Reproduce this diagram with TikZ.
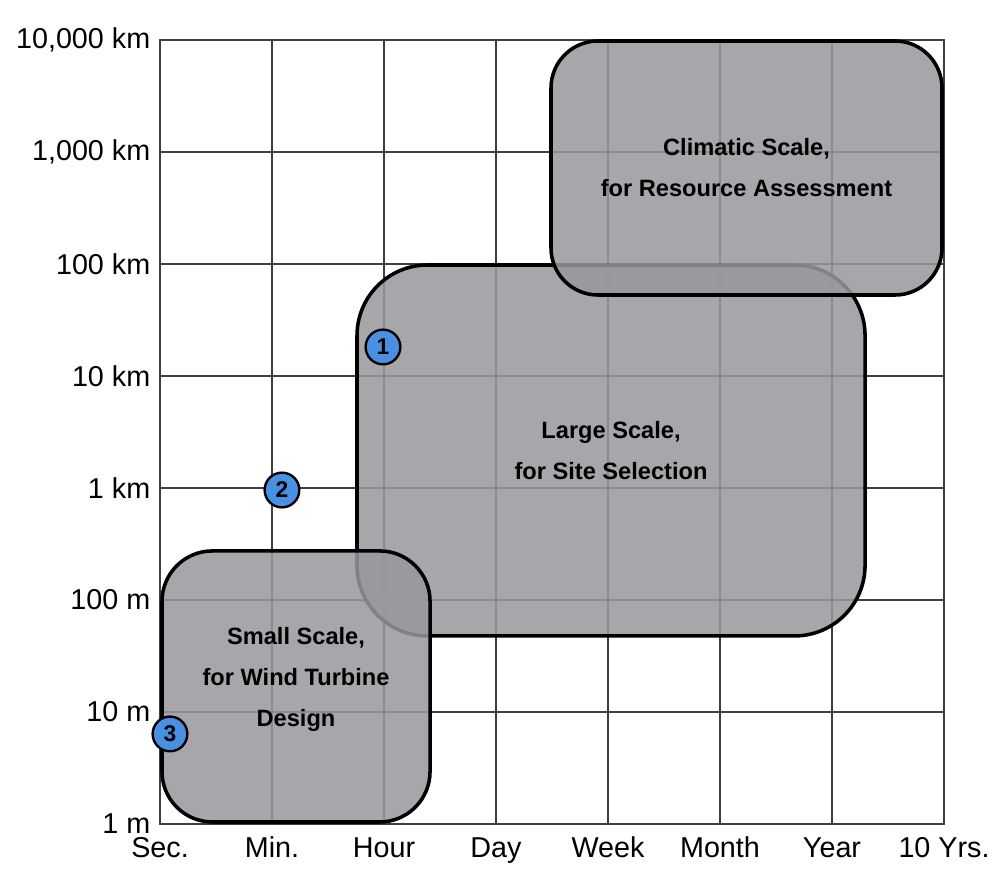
\documentclass[tikz,border=0pt]{standalone}
\usepackage{fontspec}
\setmainfont{Liberation Sans}
\usepackage{tikz}
\usetikzlibrary{positioning}

\definecolor{gridgray}{RGB}{64,64,64}
\definecolor{scalefill}{RGB}{152,151,157}
\definecolor{markblue}{RGB}{74,144,226}

\tikzset{
	scalebox/.style={rectangle,draw=black,line width=.9pt,fill=scalefill,fill opacity=.86,text opacity=1,align=center,
		font=\fontsize{6pt}{10.4pt}\selectfont\bfseries},
	axislabel/.style={inner sep=0pt,font=\fontsize{7.3pt}{8pt}\selectfont},
	marker/.style={circle,draw=black,line width=.6pt,fill=markblue,minimum size=.31cm,inner sep=0pt,
		font=\fontsize{5.8pt}{6pt}\selectfont\bfseries}
}

\begin{document}
\begin{tikzpicture}
		\useasboundingbox (-1.4286,-.5625) rectangle (7.5536,7.357);

		% grid
		\foreach \i in {1,...,6} {
			\draw[gridgray,line width=.5pt] (\i,0) -- (\i,7);
			\draw[gridgray,line width=.5pt] (0,\i) -- (7,\i);
		}
		\draw[gridgray,line width=.5pt] (0,0) rectangle (7,7);

		% length axis
		\foreach \lbl [count=\j from 0] in {1 m,10 m,100 m,1 km,10 km,100 km,{1,000 km},{10,000 km}}
			\node[axislabel,anchor=east] (len\j) at (-.08,\j) {\lbl};

		% time axis
		\foreach \lbl [count=\j from 0] in {Sec.,Min.,Hour,Day,Week,Month,Year,10 Yrs.}
			\node[axislabel,anchor=base] (time\j) at (\j,-.295) {\lbl};

		% scale regions
		\node[scalebox,rounded corners=.63cm,minimum width=4.536cm,minimum height=3.312cm] (large) at (4.027,3.335) {Large Scale,\\for Site Selection};
		\node[scalebox,rounded corners=.45cm,minimum width=2.393cm,minimum height=2.42cm,text depth=.17cm] (small) at (1.2145,1.228) {Small Scale,\\for Wind Turbine\\Design};
		\node[scalebox,rounded corners=.42cm,minimum width=3.491cm,minimum height=2.268cm] (climatic) at (5.2365,5.857) {Climatic Scale,\\for Resource Assessment};

		% numbered markers
		\node[marker] (m1) at (1.991,4.259) {1};
		\node[marker] (m2) at (1.089,2.982) {2};
		\node[marker] (m3) at (.089,.804) {3};
\end{tikzpicture}
\end{document}
